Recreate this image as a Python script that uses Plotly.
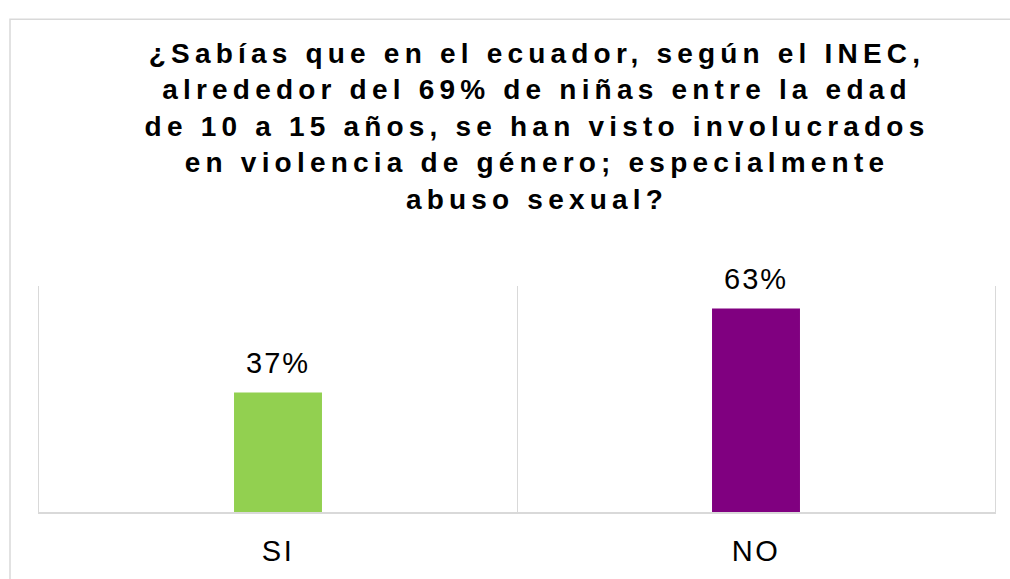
import plotly.graph_objects as go

categories = ["SI", "NO"]
values = [0.37, 0.63]
bar_colors = ["#92D050", "#800080"]
title_lines = [
    "¿Sabías que en el ecuador, según el INEC,",
    "alrededor del 69% de niñas entre la edad",
    "de 10 a 15 años, se han visto involucrados",
    "en violencia de género; especialmente",
    "abuso sexual?",
]

W, H = 1010, 579
M_L, M_R, M_T, M_B = 39, 15, 286, 60

fig = go.Figure()
fig.add_trace(go.Bar(
    x=categories,
    y=values,
    marker=dict(color=bar_colors, line=dict(width=0)),
    width=0.184,
    hoverinfo="skip",
))

for c, v in zip(categories, values):
    fig.add_annotation(
        x=c, y=v, xref="x", yref="y",
        text=f"{round(v * 100)}%",
        showarrow=False,
        yanchor="bottom",
        yshift=12,
        font=dict(family="Liberation Sans, Arial, sans-serif", size=29, color="#000000"),
    )

# outer chart border (left and top edges visible, rest cropped)
fig.add_shape(
    type="rect", xref="paper", yref="paper",
    x0=(10 - M_L) / (W - M_L - M_R), x1=1.2,
    y0=-0.6, y1=(H - M_B - 11) / (H - M_T - M_B),
    line=dict(color="#d9d9d9", width=1.5),
    fillcolor="rgba(0,0,0,0)", layer="below",
)

fig.update_layout(
    width=W, height=H,
    margin=dict(l=M_L, r=M_R, t=M_T, b=M_B),
    paper_bgcolor="white",
    plot_bgcolor="white",
    showlegend=False,
    title=dict(
        text="<br>".join(title_lines),
        font=dict(family="Liberation Sans, Arial, sans-serif", size=28, color="#000000", weight="bold"),
        x=537 / W, xanchor="center", xref="container",
        y=1 - 63 / H, yanchor="top", yref="container",
    ),
    xaxis=dict(
        type="category",
        tickson="boundaries",
        showgrid=True, gridcolor="#d9d9d9", gridwidth=1,
        showline=True, linecolor="#d9d9d9", linewidth=1.5,
        ticks="", ticklen=0,
        ticklabelstandoff=12,
        tickfont=dict(family="Liberation Sans, Arial, sans-serif", size=29, color="#000000"),
        range=[-0.5, 1.5],
        fixedrange=True,
    ),
    yaxis=dict(
        range=[0, 0.7],
        showgrid=False, zeroline=False,
        showline=True, mirror=True, linecolor="#d9d9d9", linewidth=1,
        showticklabels=False, ticks="",
        fixedrange=True,
    ),
)

post = (
    "var s=document.createElement('style');"
    "s.textContent='html,body{margin:0;padding:0;overflow:hidden}"
    " .gtitle{letter-spacing:5.2px}"
    " .xtick text{letter-spacing:2.5px}"
    " .annotation-text{letter-spacing:2px}';"
    "document.head.appendChild(s);"
)

fig.write_html("out.html", config={"displayModeBar": False}, post_script=post)
